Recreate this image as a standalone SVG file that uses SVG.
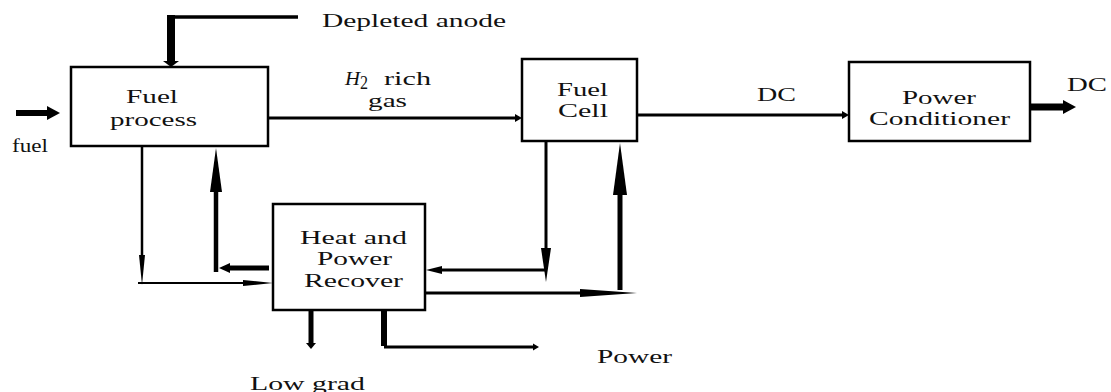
<svg xmlns="http://www.w3.org/2000/svg" width="1111" height="392" viewBox="0 0 1111 392">
<style>
.box{fill:#fff;stroke:#000;stroke-width:2.5}
.t{font-family:"Liberation Serif","Times New Roman",serif;font-size:18px;fill:#111}
.ln{fill:none;stroke:#000}
.ah{fill:#000}
</style>
<rect width="1111" height="392" fill="#fff"/>
<g id="connectors">
  <!-- depleted anode -->
  <line class="ln" x1="298" y1="17" x2="168" y2="17" stroke-width="3.5"/>
  <rect x="167" y="15" width="8" height="47" fill="#000"/>
  <polygon class="ah" points="163,61 179,61 171,67"/>
  <!-- fuel in -->
  <line class="ln" x1="16" y1="113" x2="48" y2="113" stroke-width="6"/>
  <polygon class="ah" points="47,106 47,120 60,113"/>
  <!-- H2 rich gas -->
  <line class="ln" x1="268" y1="118" x2="517" y2="118" stroke-width="3"/>
  <polygon class="ah" points="515,114 515,122 522,118"/>
  <!-- DC -->
  <line class="ln" x1="635" y1="115" x2="844" y2="115" stroke-width="3"/>
  <polygon class="ah" points="842,111 842,119 849,115"/>
  <!-- DC out -->
  <line class="ln" x1="1030" y1="107" x2="1064" y2="107" stroke-width="7"/>
  <polygon class="ah" points="1063,100 1063,114 1076,107"/>
  <!-- fuel process down, then to heat box -->
  <line class="ln" x1="142" y1="146" x2="142" y2="258" stroke-width="2.5"/>
  <polygon class="ah" points="139,255 145,255 142,285"/>
  <line class="ln" x1="138" y1="283" x2="245" y2="283" stroke-width="2"/>
  <polygon class="ah" points="243,280 243,286 273,283"/>
  <!-- heat box to fuel process up -->
  <line class="ln" x1="269" y1="268" x2="228" y2="268" stroke-width="5"/>
  <polygon class="ah" points="230,263 230,273 219,268"/>
  <line class="ln" x1="216" y1="272" x2="216" y2="190" stroke-width="4.5"/>
  <polygon class="ah" points="210,192 222,192 216,148"/>
  <!-- fuel cell down to heat box -->
  <line class="ln" x1="546" y1="141" x2="546" y2="250" stroke-width="3"/>
  <polygon class="ah" points="541,248 551,248 546,282"/>
  <line class="ln" x1="546" y1="270" x2="440" y2="270" stroke-width="3"/>
  <polygon class="ah" points="442,266 442,274 426,270"/>
  <!-- heat box to fuel cell -->
  <line class="ln" x1="425" y1="293" x2="582" y2="293" stroke-width="3"/>
  <polygon class="ah" points="580,289 580,297 637,293"/>
  <line class="ln" x1="620" y1="290" x2="620" y2="193" stroke-width="5"/>
  <polygon class="ah" points="613,195 627,195 620,143"/>
  <!-- low grade -->
  <line class="ln" x1="311" y1="310" x2="311" y2="344" stroke-width="5"/>
  <polygon class="ah" points="306,343 316,343 311,349"/>
  <!-- power -->
  <line class="ln" x1="384" y1="310" x2="384" y2="346" stroke-width="6"/>
  <line class="ln" x1="384" y1="347" x2="534" y2="347" stroke-width="3"/>
  <polygon class="ah" points="533,343.5 533,350.5 539,347"/>
</g>
<g id="fuel-process">
  <rect class="box" x="71" y="67" width="197" height="79"/>
  <text class="t" x="126" y="103" textLength="52" lengthAdjust="spacingAndGlyphs">Fuel</text>
  <text class="t" x="110" y="126" textLength="87" lengthAdjust="spacingAndGlyphs">process</text>
</g>
<g id="fuel-cell">
  <rect class="box" x="522" y="59" width="115" height="82"/>
  <text class="t" x="557" y="96" textLength="51" lengthAdjust="spacingAndGlyphs">Fuel</text>
  <text class="t" x="558" y="117" textLength="50" lengthAdjust="spacingAndGlyphs">Cell</text>
</g>
<g id="power-conditioner">
  <rect class="box" x="849" y="62" width="181" height="79"/>
  <text class="t" x="902" y="104" textLength="74" lengthAdjust="spacingAndGlyphs">Power</text>
  <text class="t" x="869" y="125" textLength="141" lengthAdjust="spacingAndGlyphs">Conditioner</text>
</g>
<g id="heat-power-recover">
  <rect class="box" x="273" y="204" width="152" height="106"/>
  <text class="t" x="300" y="244" textLength="107" lengthAdjust="spacingAndGlyphs">Heat and</text>
  <text class="t" x="317" y="265" textLength="75" lengthAdjust="spacingAndGlyphs">Power</text>
  <text class="t" x="304" y="287" textLength="99" lengthAdjust="spacingAndGlyphs">Recover</text>
</g>
<g id="labels">
  <text class="t" x="322" y="27" textLength="184" lengthAdjust="spacingAndGlyphs">Depleted anode</text>
  <text class="t" x="12" y="152" textLength="36" lengthAdjust="spacingAndGlyphs">fuel</text>
  <text class="t" x="345" y="85" font-style="italic" textLength="15" lengthAdjust="spacingAndGlyphs">H</text>
  <text class="t" x="360" y="89" font-size="13" textLength="8" lengthAdjust="spacingAndGlyphs">2</text>
  <text class="t" x="384" y="85" textLength="47" lengthAdjust="spacingAndGlyphs">rich</text>
  <text class="t" x="368" y="107" textLength="39" lengthAdjust="spacingAndGlyphs">gas</text>
  <text class="t" x="757" y="101" textLength="39" lengthAdjust="spacingAndGlyphs">DC</text>
  <text class="t" x="1067" y="91" textLength="40" lengthAdjust="spacingAndGlyphs">DC</text>
  <text class="t" x="250" y="390" textLength="115" lengthAdjust="spacingAndGlyphs">Low grad</text>
  <text class="t" x="597" y="363" textLength="75" lengthAdjust="spacingAndGlyphs">Power</text>
</g>
</svg>
